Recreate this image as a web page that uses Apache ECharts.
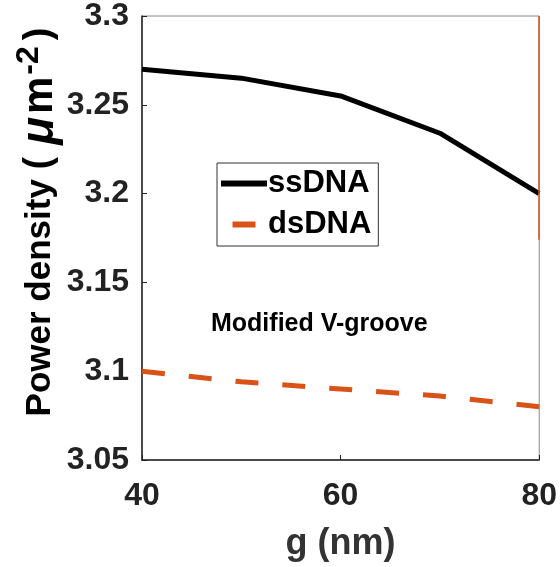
<!DOCTYPE html>
<html><head><meta charset="utf-8">
<script src="https://cdn.jsdelivr.net/npm/echarts@6/dist/echarts.min.js"></script>
<style>html,body{margin:0;padding:0;background:#fff}#c{width:560px;height:567px}</style>
</head><body><div id="c"></div>
<script>
const gValues = [40, 50, 60, 70, 80];
const ssDNA = [3.27, 3.265, 3.255, 3.234, 3.2];
const dsDNA = [3.1, 3.094, 3.09, 3.086, 3.08];
const xTicks = [40, 60, 80];
const yTicks = [3.05, 3.1, 3.15, 3.2, 3.25, 3.3];
const FONT = '"Liberation Sans", Arial, sans-serif';
const ORANGE = '#D95319';
const chart = echarts.init(document.getElementById('c'));
const tok = (size, extra) => Object.assign({fontFamily: FONT, fontWeight: 'bold', fontSize: size, color: '#222', lineHeight: 50, verticalAlign: 'middle'}, extra || {});
chart.setOption({
  animation: false,
  grid: {left: 142, right: 19, top: 16, bottom: 106, show: true, borderColor: '#888', borderWidth: 1},
  legend: {
    orient: 'vertical', left: 217, top: 163, itemWidth: 46, itemHeight: 6, itemGap: 10,
    borderColor: '#333', borderWidth: 1, padding: [5, 7, 6, 4], backgroundColor: '#fff',
    textStyle: {fontFamily: FONT, fontWeight: 'bold', fontSize: 31, color: '#000', padding: [0, 0, 0, -4]},
    data: [
      {name: 'ssDNA', icon: 'rect', itemStyle: {color: '#000'}},
      {name: 'dsDNA', icon: 'path://M0,0 L23,0 L23,6 L0,6 Z', itemStyle: {color: ORANGE}}
    ]
  },
  xAxis: {
    type: 'value', min: 40, max: 80, interval: 20,
    name: 'g (nm)', nameLocation: 'middle', nameGap: 66,
    nameTextStyle: {fontFamily: FONT, fontWeight: 'bold', fontSize: 36, color: '#333'},
    axisLine: {lineStyle: {color: '#222', width: 1.5}},
    axisTick: {inside: true, length: 5, lineStyle: {color: '#222'}},
    axisLabel: {fontFamily: FONT, fontWeight: 'bold', fontSize: 32, color: '#222', margin: 20,
      formatter: v => xTicks.includes(v) ? String(v) : ''},
    splitLine: {show: false}
  },
  yAxis: {
    type: 'value', min: 3.05, max: 3.3, interval: 0.05,
    axisLine: {show: true, lineStyle: {color: '#222', width: 1.5}},
    axisTick: {show: true, inside: true, length: 5, lineStyle: {color: '#222'}},
    axisLabel: {fontFamily: FONT, fontWeight: 'bold', fontSize: 32, color: '#222', margin: 13,
      formatter: v => { const t = yTicks.find(y => Math.abs(y - v) < 1e-6); return t === undefined ? '' : String(t); }},
    splitLine: {show: false}
  },
  series: [
    {name: 'ssDNA', type: 'line', symbol: 'none', data: gValues.map((g, i) => [g, ssDNA[i]]),
      lineStyle: {color: '#000', width: 5}, itemStyle: {color: '#000'}},
    {name: 'dsDNA', type: 'line', symbol: 'none', data: gValues.map((g, i) => [g, dsDNA[i]]),
      lineStyle: {color: ORANGE, width: 5, type: [23, 24]}, itemStyle: {color: ORANGE},
      markLine: {silent: true, symbol: 'none', label: {show: false},
        lineStyle: {color: ORANGE, width: 1.5, type: 'solid'},
        data: [[{coord: [80, 3.3]}, {coord: [80, 3.174]}]]}}
  ],
  graphic: [
    {type: 'text', left: 211, top: 312, style: {text: 'Modified V-groove', fontFamily: FONT, fontWeight: 'bold', fontSize: 25, fill: '#000'}},
    {type: 'text', x: 40, y: 222, rotation: Math.PI / 2, style: {
      text: '{a|Power density }{p|(}{u|μ}{m|m}{s|-2}{q|)}',
      align: 'center', verticalAlign: 'middle',
      rich: {
        a: tok(35),
        p: tok(38, {padding: [0, 12, 0, 0]}),
        u: tok(46, {fontStyle: 'italic', padding: [0, 3, 0, 0]}),
        m: tok(42),
        s: tok(32, {padding: [0, 0, 22, 2]}),
        q: tok(38, {padding: [0, 0, 0, 6]})
      }
    }}
  ]
});
</script></body></html>
